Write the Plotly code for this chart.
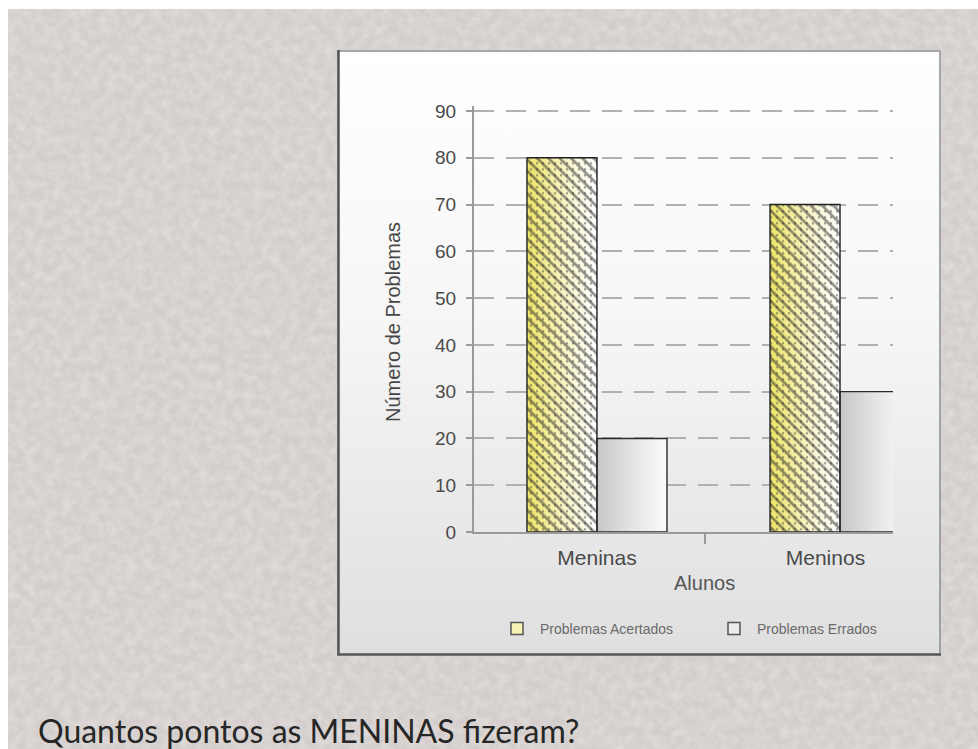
import base64
import plotly.graph_objects as go

# ---- data -------------------------------------------------------------
categories = ["Meninas", "Meninos"]
acertados = [80, 70]          # Problemas Acertados
errados = [20, 30]            # Problemas Errados
y_ticks = [0, 10, 20, 30, 40, 50, 60, 70, 80, 90]
series_names = ["Problemas Acertados", "Problemas Errados"]
question = "Quantos pontos as MENINAS fizeram?"

W, H = 978, 749
bar_w = 0.288                 # width of one bar, in category units
pos = list(range(len(categories)))

FONT = "Liberation Sans, Arial, sans-serif"


def svg_uri(svg):
    return "data:image/svg+xml;base64," + base64.b64encode(svg.encode()).decode()


# page background with a soft paper texture
bg_svg = (
    "<svg xmlns='http://www.w3.org/2000/svg' width='970' height='740'>"
    "<filter id='n'><feTurbulence type='fractalNoise' baseFrequency='0.11' "
    "numOctaves='3' seed='7'/>"
    "<feColorMatrix type='matrix' values='0 0 0 0 1  0 0 0 0 0.97  0 0 0 0 0.97  "
    "0.55 0 0 0 -0.17'/></filter>"
    "<rect width='970' height='740' fill='#d3cecc'/>"
    "<rect width='970' height='740' filter='url(#n)'/>"
    "</svg>"
)

# chart panel: white-to-grey vertical gradient with a thin frame
panel_svg = (
    "<svg xmlns='http://www.w3.org/2000/svg' width='604' height='606'>"
    "<defs><linearGradient id='g' x1='0' y1='0' x2='0' y2='1'>"
    "<stop offset='0' stop-color='#ffffff'/>"
    "<stop offset='0.45' stop-color='#f6f6f6'/>"
    "<stop offset='1' stop-color='#dfdfdf'/></linearGradient></defs>"
    "<rect x='0' y='0' width='604' height='606' fill='url(#g)'/>"
    "<path d='M1,606 V1 H603 V605' fill='none' stroke='#8a8a8a' stroke-width='1.5'/>"
    "<path d='M1.5,0 V604.5 H604' fill='none' stroke='#555' stroke-width='2.5'/>"
    "</svg>"
)

fig = go.Figure()


def rect(x0, x1, v):
    return [x0, x1, x1, x0, x0], [0, 0, v, v, 0]


# gradient fills of the bars (base axes)
for i, v in zip(pos, acertados):
    xs, ys = rect(i - bar_w, i, v)
    fig.add_trace(go.Scatter(
        x=xs, y=ys, mode="lines", fill="toself", line=dict(width=0),
        fillgradient=dict(type="horizontal",
                          colorscale=[[0, "#eee466"], [0.55, "#f8f5c8"], [1, "#ffffff"]]),
        hoverinfo="skip", showlegend=False))

for i, v in zip(pos, errados):
    xs, ys = rect(i, i + bar_w, v)
    fig.add_trace(go.Scatter(
        x=xs, y=ys, mode="lines", fill="toself", line=dict(width=0),
        fillgradient=dict(type="horizontal",
                          colorscale=[[0, "#c6c6c6"], [0.5, "#e4e4e4"], [1, "#fbfbfb"]]),
        hoverinfo="skip", showlegend=False))

# hatching and outlines (overlay axes, drawn above the fills)
fig.add_trace(go.Bar(
    x=pos, y=acertados, width=bar_w, offset=-bar_w, xaxis="x2", yaxis="y2",
    marker=dict(color="rgba(0,0,0,0)",
                pattern=dict(shape=".", fgcolor="#444444", bgcolor="rgba(0,0,0,0)",
                             size=6, solidity=0.14)),
    showlegend=False, hoverinfo="skip"))
fig.add_trace(go.Bar(
    x=pos, y=acertados, width=bar_w, offset=-bar_w, xaxis="x2", yaxis="y2",
    marker=dict(color="rgba(0,0,0,0)", line=dict(color="#222222", width=1.4),
                pattern=dict(shape="\\", fgcolor="#262626", bgcolor="rgba(0,0,0,0)",
                             size=8, solidity=0.34)),
    name=series_names[0], showlegend=False))
fig.add_trace(go.Bar(
    x=pos, y=errados, width=bar_w, offset=0, xaxis="x2", yaxis="y2",
    marker=dict(color="rgba(0,0,0,0)", line=dict(color="#2a2a2a", width=1.4)),
    name=series_names[1], showlegend=False))

# legend entries
fig.add_trace(go.Bar(x=[None], y=[None], name=series_names[0], xaxis="x2", yaxis="y2",
                     marker=dict(color="#f6f2b4", line=dict(color="#555", width=1.5))))
fig.add_trace(go.Bar(x=[None], y=[None], name=series_names[1], xaxis="x2", yaxis="y2",
                     marker=dict(color="#ececec", line=dict(color="#555", width=1.5))))

x_range = [-0.506, 1.218]
y_range = [0, 91]
px_per_unit = (532 - 111) / 90
x_dom = [474 / W, 893 / W]
y_dom = [1 - 532 / H, 1 - (532 - y_range[1] * px_per_unit) / H]

fig.update_layout(
    width=W, height=H, autosize=False,
    margin=dict(l=0, r=0, t=0, b=0, autoexpand=False),
    paper_bgcolor="#ffffff",
    plot_bgcolor="rgba(0,0,0,0)",
    barmode="overlay",
    font=dict(family=FONT, color="#4a4a4a"),
    xaxis=dict(
        domain=x_dom, range=x_range, tickmode="array",
        tickvals=[0, 0.94], ticktext=categories,
        ticks="", showgrid=False, zeroline=False, automargin=False,
        showline=True, linecolor="#9a9a9a", linewidth=2,
        tickfont=dict(size=21, color="#4a4a4a"), ticklabelstandoff=6,
        minor=dict(tickmode="array", tickvals=[0.445], ticks="outside",
                   ticklen=10, tickwidth=1.5, tickcolor="#9a9a9a"),
        fixedrange=True,
    ),
    yaxis=dict(
        domain=y_dom, range=y_range, tickmode="array", tickvals=y_ticks,
        ticks="outside", ticklen=6, tickwidth=1.5, tickcolor="#9a9a9a",
        showline=True, linecolor="#9a9a9a", linewidth=2, automargin=False,
        showgrid=True, gridcolor="#b0b0b0", gridwidth=2, griddash="20px,12px",
        zeroline=False, tickfont=dict(size=19, color="#4a4a4a"),
        ticklabelstandoff=6, fixedrange=True,
    ),
    xaxis2=dict(overlaying="x", range=x_range, visible=False, fixedrange=True),
    yaxis2=dict(overlaying="y", range=y_range, visible=False, fixedrange=True),
    legend=dict(
        orientation="h", x=494 / W, y=1 - 629 / H, xanchor="left", yanchor="middle",
        font=dict(size=14, color="#6a6a6a"), bgcolor="rgba(0,0,0,0)",
        itemwidth=36, entrywidth=166, entrywidthmode="pixels", traceorder="normal",
    ),
    images=[
        dict(source=svg_uri(bg_svg), xref="paper", yref="paper",
             x=8 / W, y=1 - 9 / H, sizex=(W - 8) / W, sizey=(H - 9) / H,
             xanchor="left", yanchor="top", sizing="stretch", layer="below"),
        dict(source=svg_uri(panel_svg), xref="paper", yref="paper",
             x=337 / W, y=1 - 50 / H, sizex=604 / W, sizey=606 / H,
             xanchor="left", yanchor="top", sizing="stretch", layer="below"),
    ],
    annotations=[
        dict(text="Número de Problemas", textangle=-90, xref="paper", yref="paper",
             x=393 / W, y=1 - 322 / H, showarrow=False,
             font=dict(size=20, color="#474747")),
        dict(text="Alunos", xref="paper", yref="paper",
             x=704 / W, y=1 - 583 / H, xanchor="center", yanchor="middle",
             showarrow=False, font=dict(size=20, color="#555555")),
        dict(text=question, xref="paper", yref="paper",
             x=36 / W, y=1 - 730 / H, xanchor="left", yanchor="middle",
             showarrow=False, font=dict(family="Lato, sans-serif", size=32, color="#262626")),
    ],
)

# keep the page itself free of default body spacing
page_css = (
    "document.documentElement.style.margin='0';"
    "document.body.style.margin='0';"
    "document.body.style.overflow='hidden';"
)

fig.write_html("out.html", post_script=page_css)
